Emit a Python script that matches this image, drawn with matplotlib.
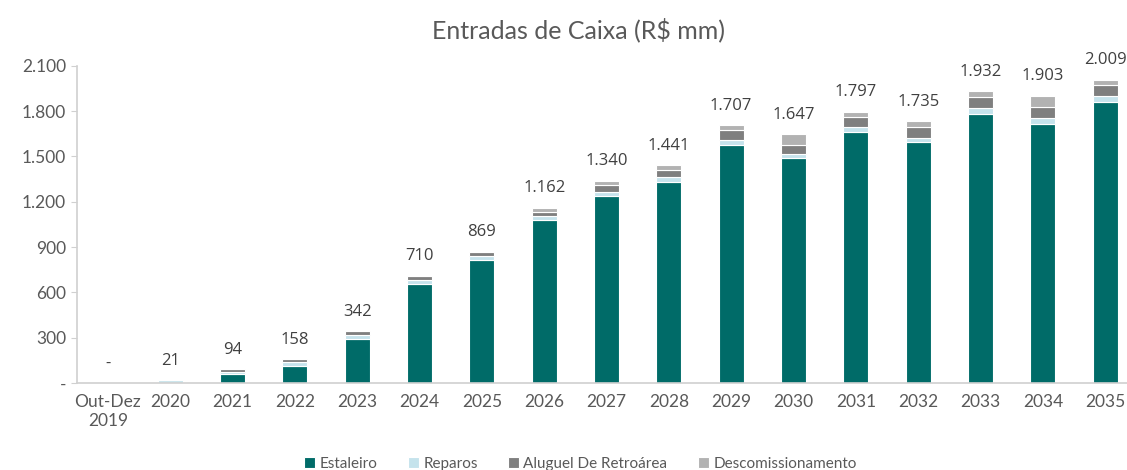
import matplotlib
matplotlib.use('Agg')
import matplotlib.pyplot as plt
import numpy as np
from matplotlib.ticker import FuncFormatter

categories = ['Out-Dez\n2019', '2020', '2021', '2022', '2023', '2024', '2025', '2026', '2027',
              '2028', '2029', '2030', '2031', '2032', '2033', '2034', '2035']
estaleiro = [0, 0, 60, 110, 293, 655, 812, 1078, 1239, 1332, 1578, 1488, 1660, 1595, 1784, 1717, 1862]
reparos = [0, 17, 15, 31, 22, 29, 26, 26, 26, 29, 29, 29, 33, 29, 35, 38, 38]
aluguel = [0, 4, 19, 17, 27, 26, 29, 29, 46, 51, 71, 62, 66, 71, 75, 75, 71]
descom = [0, 0, 0, 0, 0, 0, 2, 29, 29, 29, 29, 68, 38, 40, 38, 73, 38]
totals = [0, 21, 94, 158, 342, 710, 869, 1162, 1340, 1441, 1707, 1647, 1797, 1735, 1932, 1903, 2009]

series = [('Estaleiro', estaleiro, '#006B68'),
          ('Reparos', reparos, '#C5E3EC'),
          ('Aluguel De Retroárea', aluguel, '#7F7F7F'),
          ('Descomissionamento', descom, '#B2B2B2')]

def fmt(v, pos=None):
    if v == 0:
        return '-'
    return f'{int(v):,}'.replace(',', '.')

plt.rcParams['font.family'] = ['Lato', 'DejaVu Sans']
fig = plt.figure(figsize=(11.27, 4.70), dpi=100)
ax = fig.add_axes([0.068, 0.185, 0.932, 0.675])

x = np.arange(len(categories))
bottom = np.zeros(len(categories))
for name, vals, col in series:
    ax.bar(x, vals, 0.4, bottom=bottom, color=col, edgecolor='white', linewidth=0.8, label=name)
    bottom += np.array(vals)

for i, t in enumerate(totals):
    ax.text(x[i], max(bottom[i], 0) + 75, fmt(t), ha='center', va='bottom',
            fontsize=12, color='#404040', family=['Open Sans', 'DejaVu Sans'])

ax.set_xlim(-0.5, 16.35)
ax.set_ylim(0, 2100)
ax.set_yticks(np.arange(0, 2101, 300))
ax.yaxis.set_major_formatter(FuncFormatter(fmt))
ax.set_xticks(x)
ax.set_xticklabels(categories)
ax.tick_params(axis='y', colors='#D0D0D0', labelcolor='#595959', labelsize=12.5, length=4)
ax.tick_params(axis='x', length=0, labelcolor='#595959', labelsize=12.5, pad=8)
for s in ['top', 'right']:
    ax.spines[s].set_visible(False)
ax.spines['left'].set_color('#D0D0D0')
ax.spines['bottom'].set_color('#D0D0D0')
ax.spines['left'].set_linewidth(1.2)
ax.spines['bottom'].set_linewidth(1.2)

fig.text(0.513, 0.937, 'Entradas de Caixa (R$ mm)', ha='center', va='center',
         fontsize=18, color='#595959')
fig.legend(loc='center', bbox_to_anchor=(0.515, 0.013), ncol=4, frameon=False,
           fontsize=11, labelcolor='#595959', handlelength=0.7, handleheight=0.7,
           handletextpad=0.3, columnspacing=2.0)

fig.savefig('out.png', dpi=100)
